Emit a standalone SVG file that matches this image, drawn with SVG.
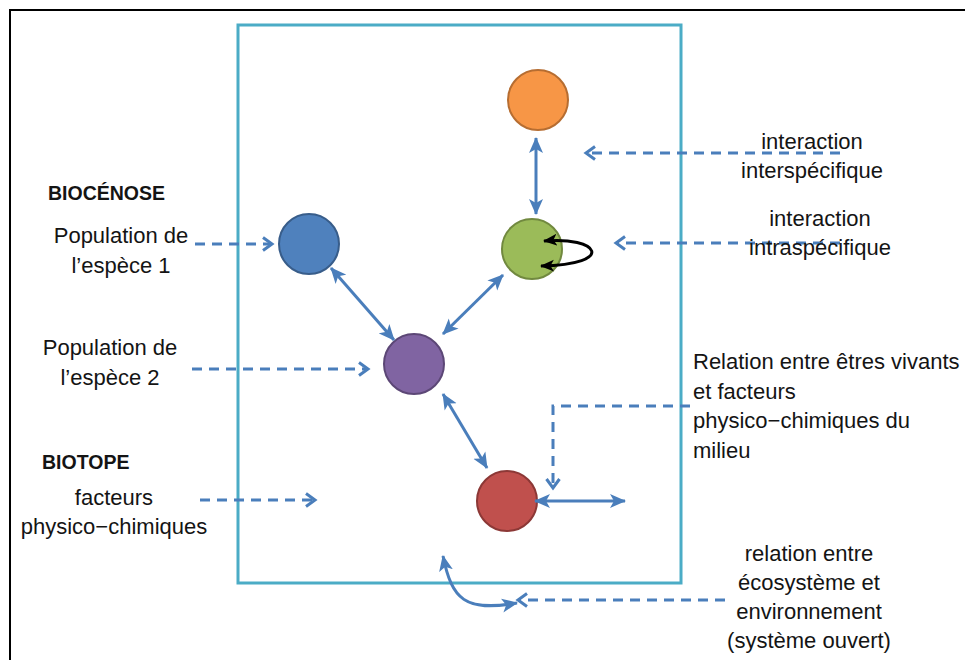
<svg xmlns="http://www.w3.org/2000/svg" width="965" height="660" viewBox="0 0 965 660">
  <defs>
    <style>
      text { font-family: "Liberation Sans", Arial, sans-serif; font-size: 22px; fill: #141414; }
      .bold { font-weight: bold; font-size: 19.5px; }
      .mid { text-anchor: middle; }
      .link { fill: none; stroke: #4a7ebb; stroke-width: 3; }
      .hint { fill: none; stroke: #4a7ebb; stroke-width: 3; stroke-dasharray: 10 7; }
      .node { stroke-width: 2; }
    </style>
    <marker id="head" markerUnits="userSpaceOnUse" markerWidth="18" markerHeight="16" refX="15" refY="8" orient="auto-start-reverse">
      <path d="M0,1 L16,8 L0,15 L4,8 z" fill="#4a7ebb"/>
    </marker>
    <marker id="headBlack" markerUnits="userSpaceOnUse" markerWidth="15" markerHeight="13" refX="13" refY="6.5" orient="auto-start-reverse">
      <path d="M0,0.5 L14,6.5 L0,12.5 L3.5,6.5 z" fill="#000"/>
    </marker>
    <marker id="chev" markerUnits="userSpaceOnUse" markerWidth="14" markerHeight="16" refX="10" refY="8" orient="auto">
      <path d="M1,1.5 L10,8 L1,14.5" fill="none" stroke="#4a7ebb" stroke-width="3"/>
    </marker>
  </defs>

  <!-- outer frame -->
  <polyline points="10,660 10,10 965,10" fill="none" stroke="#000" stroke-width="2"/>

  <!-- ecosystem boundary -->
  <rect x="238" y="25" width="443" height="558" fill="none" stroke="#4bacc6" stroke-width="3"/>

  <!-- populations -->
  <g id="orange"><circle class="node" cx="538" cy="100" r="30" fill="#f79646" stroke="#b66d31"/></g>
  <g id="green"><circle class="node" cx="532" cy="249" r="30" fill="#9bbb59" stroke="#71893f"/></g>
  <g id="blue"><circle class="node" cx="309" cy="244" r="30" fill="#4f81bd" stroke="#385d8a"/></g>
  <g id="purple"><circle class="node" cx="414" cy="364" r="30" fill="#8064a2" stroke="#5c4776"/></g>
  <g id="red"><circle class="node" cx="507" cy="501" r="30" fill="#c0504d" stroke="#8c3836"/></g>

  <!-- connectors -->
  <g id="connectors">
    <line class="link" x1="536" y1="138" x2="536" y2="214" marker-start="url(#head)" marker-end="url(#head)"/>
    <line class="link" x1="331" y1="268" x2="394" y2="340" marker-start="url(#head)" marker-end="url(#head)"/>
    <line class="link" x1="503" y1="275" x2="443" y2="334" marker-start="url(#head)" marker-end="url(#head)"/>
    <line class="link" x1="443" y1="394" x2="487" y2="468" marker-start="url(#head)" marker-end="url(#head)"/>
    <line class="link" x1="535" y1="501" x2="625" y2="501" marker-start="url(#head)" marker-end="url(#head)"/>
    <path class="link" d="M443,556 C452,600 465,612 517,603" marker-start="url(#head)" marker-end="url(#head)"/>
    <!-- intraspecific self-loop on the green population -->
    <path d="M544,241 C598,236 618,264 541,266" fill="none" stroke="#000" stroke-width="3" marker-start="url(#headBlack)" marker-end="url(#headBlack)"/>

    <line class="hint" x1="840" y1="153" x2="586" y2="153" marker-end="url(#chev)"/>
    <line class="hint" x1="840" y1="243" x2="616" y2="243" marker-end="url(#chev)"/>
    <line class="hint" x1="195" y1="244" x2="272" y2="244" marker-end="url(#chev)"/>
    <line class="hint" x1="192" y1="369" x2="368" y2="369" marker-end="url(#chev)"/>
    <line class="hint" x1="200" y1="500" x2="315" y2="500" marker-end="url(#chev)"/>
    <polyline class="hint" points="690,406 553,406 553,488" marker-end="url(#chev)"/>
    <line class="hint" x1="725" y1="600" x2="518" y2="600" marker-end="url(#chev)"/>
  </g>

  <!-- left labels -->
  <g id="biocenose-label"><text class="bold" x="48" y="200">BIOCÉNOSE</text></g>
  <g id="pop1-label">
    <text class="mid" x="121" y="243">Population de</text>
    <text class="mid" x="121" y="273">l’espèce 1</text>
  </g>
  <g id="pop2-label">
    <text class="mid" x="110" y="355">Population de</text>
    <text class="mid" x="110" y="385">l’espèce 2</text>
  </g>
  <g id="biotope-label"><text class="bold" x="42" y="469">BIOTOPE</text></g>
  <g id="factors-label">
    <text class="mid" x="114" y="505">facteurs</text>
    <text class="mid" x="114" y="534">physico−chimiques</text>
  </g>

  <!-- right labels -->
  <g id="inter-label">
    <text class="mid" x="812" y="149">interaction</text>
    <text class="mid" x="812" y="178">interspécifique</text>
  </g>
  <g id="intra-label">
    <text class="mid" x="820" y="226">interaction</text>
    <text class="mid" x="820" y="255">intraspécifique</text>
  </g>
  <g id="relation-label">
    <text x="693" y="369">Relation entre êtres vivants</text>
    <text x="693" y="399">et facteurs</text>
    <text x="693" y="428">physico−chimiques du</text>
    <text x="693" y="458">milieu</text>
  </g>
  <g id="environment-label">
    <text class="mid" x="809" y="561">relation entre</text>
    <text class="mid" x="809" y="590">écosystème et</text>
    <text class="mid" x="809" y="619">environnement</text>
    <text class="mid" x="809" y="648">(système ouvert)</text>
  </g>
</svg>
